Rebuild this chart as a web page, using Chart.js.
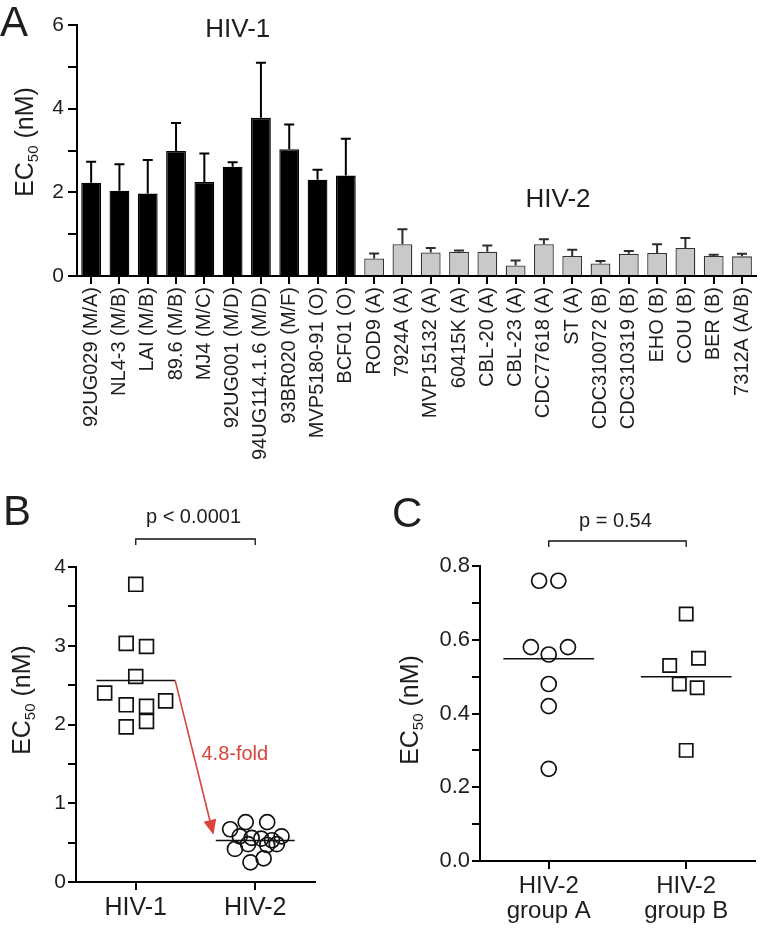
<!DOCTYPE html>
<html>
<head>
<meta charset="utf-8">
<title>EC50 of HIV-1 and HIV-2 isolates</title>
<script src="https://cdn.jsdelivr.net/npm/chart.js@4.4.0/dist/chart.umd.min.js"></script>
<style>
  html, body { margin: 0; padding: 0; background: #fff; overflow: hidden; width: 766px; height: 935px; }
  canvas { position: absolute; }
</style>
</head>
<body>
<canvas id="chartA" width="769" height="480" style="left:0;top:0"></canvas>
<canvas id="chartB" width="340" height="455" style="left:0;top:480px"></canvas>
<canvas id="chartC" width="386" height="455" style="left:380px;top:480px"></canvas>
<script>
// isolates, in the order of panel A
var isolateLabels = ['92UG029 (M/A)', 'NL4-3 (M/B)', 'LAI (M/B)', '89.6 (M/B)', 'MJ4 (M/C)',
  '92UG001 (M/D)', '94UG114.1.6 (M/D)', '93BR020 (M/F)', 'MVP5180-91 (O)', 'BCF01 (O)',
  'ROD9 (A)', '7924A (A)', 'MVP15132 (A)', '60415K (A)', 'CBL-20 (A)', 'CBL-23 (A)',
  'CDC77618 (A)', 'ST (A)', 'CDC310072 (B)', 'CDC310319 (B)', 'EHO (B)', 'COU (B)',
  'BER (B)', '7312A (A/B)'];
var isolateGroup = ['HIV-1', 'HIV-1', 'HIV-1', 'HIV-1', 'HIV-1', 'HIV-1', 'HIV-1', 'HIV-1', 'HIV-1', 'HIV-1',
  'A', 'A', 'A', 'A', 'A', 'A', 'A', 'A', 'B', 'B', 'B', 'B', 'B', 'B'];
var ec50Mean = [2.23, 2.04, 1.97, 2.99, 2.25, 2.61, 3.78, 3.03, 2.30, 2.40,
  0.42, 0.76, 0.56, 0.58, 0.58, 0.25, 0.76, 0.48, 0.30, 0.53, 0.55, 0.67, 0.48, 0.47];
var ec50Sd = [0.50, 0.63, 0.80, 0.67, 0.68, 0.11, 1.32, 0.59, 0.24, 0.88,
  0.12, 0.36, 0.11, 0.03, 0.15, 0.12, 0.12, 0.15, 0.06, 0.07, 0.21, 0.24, 0.03, 0.06];

// horizontal scatter of the dots around their column (data units)
var jitterB = [0.09, 0.09, -0.08, 0.09, -0.08, 0, 0, -0.08, 0.25, -0.26,
  -0.17, -0.08, -0.03, 0.22, -0.13, -0.04, 0.10, -0.06, 0.07, 0.14, 0.05, -0.21, 0.18, 0.10];
var jitterC = [0, 0, 0, 0, 0, 0, 0, 0, 0, 0,
  0, -0.07, 0, -0.13, 0.14, 0, 0.07, 0, 0, -0.12, 0.09, 0, -0.05, 0.08];

var typeLabels = ['HIV-1', 'HIV-2'];
var subgroupLabels = [['HIV-2', 'group A'], ['HIV-2', 'group B']];
var pValueB = 'p < 0.0001';
var pValueC = 'p = 0.54';
var foldText = '4.8-fold';

var fontFamily = "'Liberation Sans', Arial, Helvetica, sans-serif";
var ink = '#1e1e1e';
var red = '#d8433a';

Chart.defaults.font.family = fontFamily;
Chart.defaults.color = ink;
Chart.defaults.animation = false;
Chart.defaults.plugins.legend.display = false;
Chart.defaults.plugins.tooltip.enabled = false;

function axisGrid(len) {
  return { drawOnChartArea: false, tickLength: len, color: '#000', lineWidth: 2 };
}
var axisBorder = { color: '#000', width: 2 };

function mean(arr) {
  return arr.reduce(function (a, b) { return a + b; }, 0) / arr.length;
}

function pick(group, col, jitter) {
  var pts = [];
  ec50Mean.forEach(function (v, i) {
    if (group.indexOf(isolateGroup[i]) >= 0) pts.push({ x: col + jitter[i], y: v });
  });
  return pts;
}

function valuesOf(group) {
  return ec50Mean.filter(function (v, i) { return group.indexOf(isolateGroup[i]) >= 0; });
}

function meanLine(col, m) {
  return [{ x: col - 0.33, y: m }, { x: col + 0.33, y: m }];
}

function drawYTitle(ctx, cx, cy) {
  ctx.save();
  ctx.translate(cx, cy);
  ctx.rotate(-Math.PI / 2);
  ctx.fillStyle = ink;
  ctx.textBaseline = 'alphabetic';
  ctx.textAlign = 'left';
  var big = '25px ' + fontFamily, small = '15px ' + fontFamily;
  ctx.font = big;
  var w1 = ctx.measureText('EC').width;
  var w3 = ctx.measureText(' (nM)').width;
  ctx.font = small;
  var w2 = ctx.measureText('50').width;
  var x = -(w1 + w2 + w3) / 2;
  ctx.font = big;
  ctx.fillText('EC', x, 8);
  ctx.font = small;
  ctx.fillText('50', x + w1, 13);
  ctx.font = big;
  ctx.fillText(' (nM)', x + w1 + w2, 8);
  ctx.restore();
}

function drawLetter(ctx, letter, x, y) {
  ctx.save();
  ctx.font = '42px ' + fontFamily;
  ctx.fillStyle = ink;
  ctx.textAlign = 'left';
  ctx.textBaseline = 'alphabetic';
  ctx.fillText(letter, x, y);
  ctx.restore();
}

function drawBracket(chart, text, lift, textLift) {
  var ctx = chart.ctx, xs = chart.scales.x, top = chart.chartArea.top;
  var x1 = xs.getPixelForValue(0.5), x2 = xs.getPixelForValue(1.5);
  var yb = top - lift;
  ctx.save();
  ctx.strokeStyle = '#111';
  ctx.lineWidth = 1.3;
  ctx.beginPath();
  ctx.moveTo(x1, yb + 6);
  ctx.lineTo(x1, yb);
  ctx.lineTo(x2, yb);
  ctx.lineTo(x2, yb + 6);
  ctx.stroke();
  ctx.font = '20px ' + fontFamily;
  ctx.fillStyle = ink;
  ctx.textAlign = 'center';
  ctx.fillText(text, (x1 + x2) / 2 - 2, top - textLift);
  ctx.restore();
}

// ---------- panel A ----------
var isHiv1 = function (i) { return isolateGroup[i] === 'HIV-1'; };

var panelAPlugin = {
  id: 'panelA',
  afterDatasetsDraw: function (chart) {
    var ctx = chart.ctx, meta = chart.getDatasetMeta(0), y = chart.scales.y, x = chart.scales.x;
    ctx.save();
    meta.data.forEach(function (bar, i) {
      var base = y.getPixelForValue(ec50Mean[i]);
      var top = y.getPixelForValue(ec50Mean[i] + ec50Sd[i]);
      ctx.strokeStyle = isHiv1(i) ? '#000' : '#2e2e2e';
      ctx.lineWidth = 2;
      ctx.beginPath();
      ctx.moveTo(bar.x, base);
      ctx.lineTo(bar.x, top);
      ctx.moveTo(bar.x - 5, top);
      ctx.lineTo(bar.x + 5, top);
      ctx.stroke();
    });
    ctx.font = '26px ' + fontFamily;
    ctx.fillStyle = ink;
    ctx.textAlign = 'center';
    ctx.fillText('HIV-1', x.getPixelForValue(5.18), y.getPixelForValue(5.72));
    ctx.fillText('HIV-2', x.getPixelForValue(16.5), y.getPixelForValue(1.65));
    ctx.restore();
    drawYTitle(ctx, 25, 142);
    drawLetter(ctx, 'A', 0, 36);
  }
};

new Chart(document.getElementById('chartA'), {
  type: 'bar',
  data: {
    labels: isolateLabels,
    datasets: [{
      data: ec50Mean,
      backgroundColor: ec50Mean.map(function (v, i) { return isHiv1(i) ? '#000' : '#c9c9c9'; }),
      borderColor: ec50Mean.map(function (v, i) { return isHiv1(i) ? '#000' : '#333'; }),
      borderWidth: 1.3,
      barPercentage: 0.7,
      categoryPercentage: 1
    }]
  },
  options: {
    responsive: false,
    layout: { padding: { top: 25, right: 0, left: 0, bottom: 0 } },
    scales: {
      x: {
        grid: { offset: false, drawOnChartArea: false, tickLength: 8, color: '#000', lineWidth: 2 },
        border: axisBorder,
        ticks: { autoSkip: false, minRotation: 90, maxRotation: 90, padding: 3, font: { size: 20 } },
        afterFit: function (s) { s.height = 204; }
      },
      y: {
        min: 0, max: 6,
        grid: axisGrid(9),
        border: axisBorder,
        ticks: {
          stepSize: 1, padding: 4, font: { size: 21 },
          callback: function (v) { return v % 2 === 0 ? v : ''; }
        },
        afterFit: function (s) { s.width = 77; }
      }
    }
  },
  plugins: [panelAPlugin]
});

// ---------- panel B ----------
var hiv1Mean = mean(valuesOf(['HIV-1']));
var hiv2Mean = mean(valuesOf(['A', 'B']));

var panelBPlugin = {
  id: 'panelB',
  afterDatasetsDraw: function (chart) {
    var ctx = chart.ctx, xs = chart.scales.x, ys = chart.scales.y;
    var x0 = xs.getPixelForValue(0.5 + 0.33), y0 = ys.getPixelForValue(hiv1Mean);
    var x1 = xs.getPixelForValue(1.15), y1 = ys.getPixelForValue(0.60);
    var ang = Math.atan2(y1 - y0, x1 - x0), head = 15, half = 6.5;
    var bx = x1 - head * Math.cos(ang), by = y1 - head * Math.sin(ang);
    ctx.save();
    ctx.strokeStyle = red;
    ctx.fillStyle = red;
    ctx.lineWidth = 1.6;
    ctx.beginPath();
    ctx.moveTo(x0, y0);
    ctx.lineTo(bx, by);
    ctx.stroke();
    ctx.beginPath();
    ctx.moveTo(x1, y1);
    ctx.lineTo(bx + half * Math.sin(ang), by - half * Math.cos(ang));
    ctx.lineTo(bx - half * Math.sin(ang), by + half * Math.cos(ang));
    ctx.closePath();
    ctx.fill();
    ctx.font = '20px ' + fontFamily;
    ctx.textAlign = 'left';
    ctx.fillText(foldText, xs.getPixelForValue(1.05), ys.getPixelForValue(1.55));
    ctx.restore();
    drawBracket(chart, pValueB, 28, 44);
    drawYTitle(ctx, 22, 220);
    drawLetter(ctx, 'B', 3, 45);
  }
};

new Chart(document.getElementById('chartB'), {
  type: 'scatter',
  data: {
    datasets: [
      { data: pick(['HIV-1'], 0.5, jitterB), pointStyle: 'rect', pointRadius: 9.8,
        borderColor: '#111', borderWidth: 1.7, backgroundColor: 'rgba(0,0,0,0)' },
      { data: pick(['A', 'B'], 1.5, jitterB), pointStyle: 'circle', pointRadius: 7.5,
        borderColor: '#111', borderWidth: 1.7, backgroundColor: 'rgba(0,0,0,0)' },
      { type: 'line', data: meanLine(0.5, hiv1Mean), borderColor: '#111', borderWidth: 1.5, pointRadius: 0 },
      { type: 'line', data: meanLine(1.5, hiv2Mean), borderColor: '#111', borderWidth: 1.5, pointRadius: 0 }
    ]
  },
  options: {
    responsive: false,
    layout: { padding: { top: 87, right: 25, left: 0, bottom: 0 } },
    scales: {
      x: {
        type: 'linear', min: 0, max: 2,
        afterBuildTicks: function (s) { s.ticks = [{ value: 0.5 }, { value: 1.5 }]; },
        grid: axisGrid(8),
        border: axisBorder,
        ticks: {
          padding: 3, font: { size: 25 },
          callback: function (v, i) { return typeLabels[i]; }
        },
        afterFit: function (s) { s.height = 53; }
      },
      y: {
        min: 0, max: 4,
        grid: axisGrid(8),
        border: axisBorder,
        ticks: {
          stepSize: 0.5, padding: 2, font: { size: 21 },
          callback: function (v) { return Number.isInteger(v) ? v : ''; }
        },
        afterFit: function (s) { s.width = 76; }
      }
    }
  },
  plugins: [panelBPlugin]
});

// ---------- panel C ----------
var groupAMean = mean(valuesOf(['A']));
var groupBMean = mean(valuesOf(['B']));

var panelCPlugin = {
  id: 'panelC',
  afterDatasetsDraw: function (chart) {
    drawBracket(chart, pValueC, 25, 39);
    drawYTitle(chart.ctx, 30, 230);
    drawLetter(chart.ctx, 'C', 12, 47);
  }
};

new Chart(document.getElementById('chartC'), {
  type: 'scatter',
  data: {
    datasets: [
      { data: pick(['A'], 0.5, jitterC), pointStyle: 'circle', pointRadius: 7.5,
        borderColor: '#111', borderWidth: 1.7, backgroundColor: 'rgba(0,0,0,0)' },
      { data: pick(['B'], 1.5, jitterC), pointStyle: 'rect', pointRadius: 9.4,
        borderColor: '#111', borderWidth: 1.7, backgroundColor: 'rgba(0,0,0,0)' },
      { type: 'line', data: meanLine(0.5, groupAMean), borderColor: '#111', borderWidth: 1.5, pointRadius: 0 },
      { type: 'line', data: meanLine(1.5, groupBMean), borderColor: '#111', borderWidth: 1.5, pointRadius: 0 }
    ]
  },
  options: {
    responsive: false,
    layout: { padding: { top: 86, right: 4, left: 0, bottom: 0 } },
    scales: {
      x: {
        type: 'linear', min: 0, max: 2,
        afterBuildTicks: function (s) { s.ticks = [{ value: 0.5 }, { value: 1.5 }]; },
        grid: axisGrid(8),
        border: axisBorder,
        ticks: {
          padding: 5, font: { size: 24, lineHeight: 1.05 },
          callback: function (v, i) { return subgroupLabels[i]; }
        },
        afterFit: function (s) { s.height = 74; }
      },
      y: {
        min: 0, max: 0.8,
        grid: axisGrid(8),
        border: axisBorder,
        ticks: {
          stepSize: 0.1, padding: 2, font: { size: 22 },
          callback: function (v) { return Math.round(v * 10) % 2 === 0 ? v.toFixed(1) : ''; }
        },
        afterFit: function (s) { s.width = 100; }
      }
    }
  },
  plugins: [panelCPlugin]
});
</script>
</body>
</html>
